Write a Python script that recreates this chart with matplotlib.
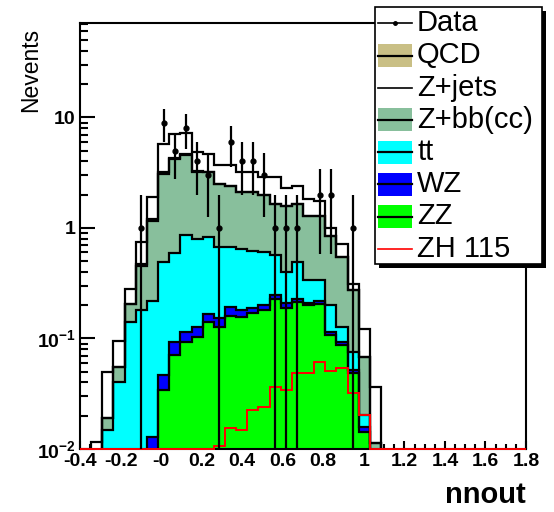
import numpy as np
import matplotlib
matplotlib.use("Agg")
import matplotlib.pyplot as plt
from matplotlib.patches import Rectangle
from matplotlib.lines import Line2D
from matplotlib.ticker import FixedLocator, NullFormatter

plt.rcParams['font.family'] = ['Liberation Sans', 'DejaVu Sans']
plt.rcParams['mathtext.fontset'] = 'custom'
plt.rcParams['mathtext.rm'] = 'Liberation Sans'
plt.rcParams['mathtext.bf'] = 'Liberation Sans:bold'

# binning: 40 bins of 0.055 from -0.4 to 1.8
X_LO, BIN_W, NBINS = -0.4, 0.055, 40

# per-bin yields (bins 0..27, rest are empty)
zz = [0, 0, 0, 0, 0, 0, 0, 0.034, 0.071, 0.093, 0.103, 0.141, 0.127, 0.161,
      0.157, 0.17, 0.18, 0.23, 0.19, 0.215, 0.2, 0.205, 0.107, 0.087, 0.049, 0.0142, 0, 0]
wz = [0, 0, 0, 0, 0, 0, 0.0129, 0.013, 0.022, 0.022, 0.024, 0.027, 0.025, 0.032,
      0.023, 0.02, 0.02, 0.016, 0.02, 0.015, 0.01, 0.015, 0.008, 0.006, 0.003, 0.0017, 0, 0]
tt = [0, 0, 0.015, 0.040, 0.14, 0.18, 0.207, 0.443, 0.497, 0.745, 0.673, 0.662, 0.518, 0.477,
      0.47, 0.43, 0.40, 0.324, 0.19, 0.26, 0.126, 0.116, 0.085, 0.034, 0.024, 0.0044, 0, 0]
zbb = [0, 0, 0.004, 0.015, 0.067, 0.27, 0.93, 2.61, 3.61, 3.74, 2.40, 2.37, 1.83, 1.73,
       1.45, 1.48, 1.40, 1.09, 1.17, 1.17, 0.96, 0.96, 0.65, 0.42, 0.197, 0.0477, 0.0114, 0]
qcd = [0, 0, 0, 0, 0, 0.02, 0.06, 0.1, 0.1, 0.1, 0.05, 0, 0, 0,
       0, 0, 0, 0, 0, 0, 0, 0, 0, 0, 0, 0, 0, 0]
zjets = [0, 0.0115, 0.031, 0.040, 0.073, 0.28, 0.69, 2.6, 2.8, 2.6, 1.6, 1.5, 1.2, 1.3,
         1.1, 1.1, 0.9, 1.24, 0.73, 0.74, 0.55, 0.45, 0.15, 0.17, 0.041, 0.055, 0.0252, 0]
zh115 = [0, 0, 0, 0, 0, 0, 0, 0, 0, 0, 0, 0, 0.0106, 0.0154, 0.0149, 0.0225, 0.0241, 0.0361,
         0.0341, 0.0483, 0.0483, 0.0615, 0.051, 0.0536, 0.0319, 0.0203, 0, 0]
data = [0, 0, 0, 0, 0, 1, 0, 9, 5, 8, 4, 3, 1, 6, 4, 4, 3, 1, 1, 1, 0, 2, 2, 0, 1, 0, 0, 0]

xtick_vals = [-0.4, -0.2, 0.0, 0.2, 0.4, 0.6, 0.8, 1.0, 1.2, 1.4, 1.6, 1.8]
xtick_text = ["-0.4", "-0.2", "-0", "0.2", "0.4", "0.6", "0.8", "1", "1.2", "1.4", "1.6", "1.8"]
ytick_vals = [0.01, 0.1, 1, 10]
ytick_text = [r"$\mathbf{10^{-2}}$", r"$\mathbf{10^{-1}}$", "1", "10"]

names = ["ZZ", "WZ", "tt", "Z+bb(cc)", "QCD", "Z+jets"]
colors = ["#00ff00", "#0000ff", "#00ffff", "#88bf9c", "#c9bf85", "#ffffff"]


def pad(v):
    a = np.zeros(NBINS)
    a[:len(v)] = v
    return a


edges = X_LO + BIN_W * np.arange(NBINS + 1)
centers = 0.5 * (edges[:-1] + edges[1:])
comps = [pad(v) for v in (zz, wz, tt, zbb, qcd, zjets)]
cums = np.cumsum(comps, axis=0)

fig = plt.figure(figsize=(5.54, 5.12), dpi=100)
W, H = 554, 512
ax = fig.add_axes([80 / W, (H - 449) / H, 446 / W, (449 - 22.7) / H])
ax.set_yscale("log")
ax.set_xlim(-0.4, 1.8)
ax.set_ylim(0.01, 72)

# stack: draw from the total down
for i in range(len(comps) - 1, -1, -1):
    c = np.where(cums[i] > 0, cums[i], 1e-4)
    ax.stairs(c, edges, baseline=1e-4, fill=True, color=colors[i], lw=0, zorder=2)
    ax.stairs(c, edges, baseline=1e-4, fill=False, color="black", lw=1.6, zorder=2.5)

zh = pad(zh115)
ax.stairs(np.where(zh > 0, zh, 0.01), edges, baseline=None, color="red", lw=1.4,
          zorder=4, clip_on=False)

d = pad(data)
m = d > 0
ax.errorbar(centers[m], d[m], yerr=np.sqrt(d[m]), fmt="o", ms=3.5, color="black",
            elinewidth=1.6, capsize=0, zorder=5)

for s in ax.spines.values():
    s.set_linewidth(1.5)
ax.xaxis.set_major_locator(FixedLocator(xtick_vals))
ax.set_xticklabels(xtick_text)
ax.xaxis.set_minor_locator(FixedLocator(X_LO + 0.05 * np.arange(45)))
ax.yaxis.set_major_locator(FixedLocator(ytick_vals))
ax.set_yticklabels(ytick_text)
ax.yaxis.set_minor_locator(FixedLocator([k * 10.0 ** e for e in range(-2, 2) for k in range(2, 10)]))
ax.yaxis.set_minor_formatter(NullFormatter())
ax.tick_params(which="both", direction="in", top=False, right=False, width=1.5)
ax.tick_params(axis="y", which="major", length=10.8, pad=3, labelsize=14)
ax.tick_params(axis="y", which="minor", length=5.8)
ax.tick_params(axis="x", which="major", length=5.8, pad=3, labelsize=14)
ax.tick_params(axis="x", which="minor", length=3.6)
for lab in ax.get_xticklabels() + ax.get_yticklabels():
    lab.set_fontweight("bold")

fig.text(31 / W, 1 - 28 / H, "Nevents", rotation=90, ha="center", va="top", fontsize=16.5)
fig.text(526 / W, 1 - 495 / H, "nnout", ha="right", va="center", fontsize=21, fontweight="bold")

# legend box with shadow
lx0, lx1, ly0, ly1 = 375, 542, 7, 264
fig.patches.append(Rectangle((lx0 / W + 4 / W, 1 - ly1 / H - 4 / H), (lx1 - lx0) / W, (ly1 - ly0) / H,
                             transform=fig.transFigure, facecolor="black", edgecolor="none", zorder=10))
fig.patches.append(Rectangle((lx0 / W, 1 - ly1 / H), (lx1 - lx0) / W, (ly1 - ly0) / H,
                             transform=fig.transFigure, facecolor="white", edgecolor="black",
                             lw=1.2, zorder=11))
leg_rows = [("Data", None), ("QCD", 4), ("Z+jets", 5), ("Z+bb(cc)", 3), ("tt", 2), ("WZ", 1),
            ("ZZ", 0), ("ZH 115", "zh")]
for r, (txt, key) in enumerate(leg_rows):
    yc = 23.3 + 32.2 * r
    yf = 1 - yc / H
    if key is None:
        fig.lines.append(Line2D([378 / W, 412 / W], [yf, yf], transform=fig.transFigure, color="black",
                                lw=1.2, zorder=12))
        fig.lines.append(Line2D([395 / W], [yf], transform=fig.transFigure, color="black", marker="o",
                                ms=2.5, zorder=12))
    elif key == "zh":
        fig.lines.append(Line2D([378 / W, 412 / W], [yf, yf], transform=fig.transFigure, color="red",
                                lw=1.2, zorder=12))
    elif key == 5:
        fig.lines.append(Line2D([378 / W, 412 / W], [yf, yf], transform=fig.transFigure, color="black",
                                lw=1.2, zorder=12))
    else:
        fig.patches.append(Rectangle((378 / W, yf - 11.5 / H), 34 / W, 23 / H, transform=fig.transFigure,
                                     facecolor=colors[key], edgecolor="none", zorder=12))
        fig.lines.append(Line2D([378 / W, 412 / W], [yf, yf], transform=fig.transFigure, color="black",
                                lw=1.6, zorder=13))
    fig.text(417 / W, yf, txt, ha="left", va="center", fontsize=21, zorder=13)

fig.savefig("out.png", dpi=100)
